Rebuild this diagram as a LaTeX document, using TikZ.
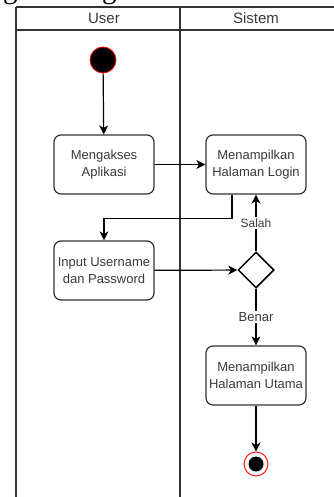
\documentclass[tikz,border=0pt]{standalone}
\usepackage{fontspec}
\setmainfont{Liberation Sans}
\newfontfamily\titlefont{Liberation Serif}
\usetikzlibrary{shapes.geometric,arrows.meta}
\definecolor{ink}{HTML}{333333}
\definecolor{txt}{HTML}{3A3A3A}
\tikzset{
  lane/.style={draw=ink, line width=1.1pt},
  act/.style={draw=ink, line width=1.2pt, rounded corners=7pt, fill=white,
    minimum width=100pt, minimum height=59pt, align=center, inner sep=1pt,
    text=txt, font=\fontsize{13}{17.5}\selectfont},
  flow/.style={draw=black, line width=1.2pt,
    -{Stealth[length=9pt,width=9pt,inset=2.5pt]}},
  lbl/.style={fill=white, text=txt, inner sep=1.5pt, font=\fontsize{12}{14}\selectfont},
  head/.style={text=txt, font=\fontsize{15}{17}\selectfont}
}
\begin{document}
\begin{tikzpicture}[x=1pt,y=-1pt]
\clip (0,0) rectangle (334,497);
\fill[white] (0,0) rectangle (334,497);

% caption above the table, cut by the page edge
\node[anchor=base west, inner sep=0, font=\titlefont\fontsize{29}{30}\selectfont] (title) at (-39,-1) {Diagram Login};

% swimlanes
\draw[lane] (16,7) -- (334,7);
\draw[lane] (16,30) -- (334,30);
\draw[lane] (16,7) -- (16,497);
\draw[lane] (180,7) -- (180,497);
\node[head] (huser) at (104,18.5) {User};
\node[head] (hsys) at (256,18.5) {Sistem};

% start node
\node[circle, fill=black, draw=red, line width=0.8pt, minimum size=26pt, inner sep=0] (start) at (103,60) {};

% activities
\node[act] (akses) at (104,164.5) {Mengakses\\Aplikasi};
\node[act] (login) at (256,164.5) {Menampilkan\\Halaman Login};
\node[act] (input) at (104,270.5) {Input Username\\dan Password};
\node[act] (utama) at (256,375.5) {Menampilkan\\Halaman Utama};

% decision
\node[diamond, draw=black, line width=1.5pt, fill=white, minimum width=36pt, minimum height=36pt, inner sep=0] (dec) at (256,270) {};

% end node
\node[circle, draw=red, line width=0.9pt, fill=white, minimum size=24pt, inner sep=0] (end) at (256,464) {};
\node[circle, fill=black, minimum size=15pt, inner sep=0] (endin) at (end) {};

% flows
\draw[flow] (start) -- (akses);
\draw[flow] (akses) -- (login);
\draw[flow] ([xshift=-24pt]login.south) -- ++(0,24) -| (input.north);
\draw[flow] (input) -- (dec);
\draw[flow] (dec) -- node[lbl] {Salah} (login);
\draw[flow] (dec) -- node[lbl, font=\fontsize{13}{15}\selectfont] {Benar} (utama);
\draw[flow] (utama) -- (end);
\end{tikzpicture}
\end{document}
